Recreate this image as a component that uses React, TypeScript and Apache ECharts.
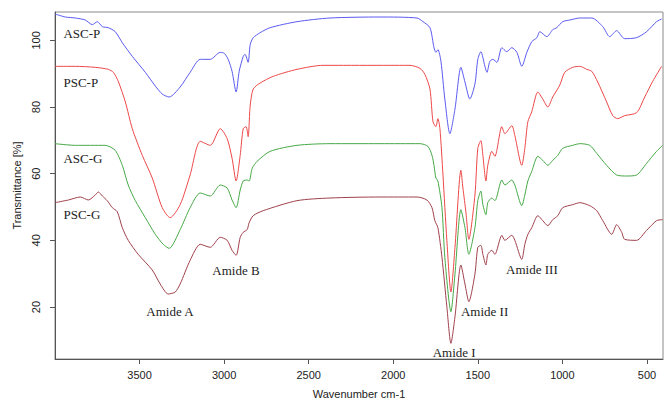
import React, { useEffect, useRef } from "react";
import * as echarts from "echarts";

// [wavenumber (cm-1), transmittance (%)]
const ascP: number[][] = [
  [4000, 107.9], [3939, 107.0], [3880, 106.7], [3821, 106.1], [3779, 104.7], [3750, 105.6],
  [3720, 104.1], [3685, 103.8], [3644, 102.6], [3602, 99.3], [3543, 95.2], [3466, 90.4],
  [3407, 86.3], [3366, 83.9], [3325, 83.0], [3260, 86.0], [3201, 90.4], [3141, 94.3],
  [3082, 94.3], [3023, 96.4], [2999, 96.1], [2976, 94.3], [2953, 90.7], [2929, 84.5],
  [2911, 90.7], [2887, 95.2], [2876, 95.8], [2858, 93.4], [2846, 98.7], [2828, 100.8],
  [2787, 102.3], [2728, 103.8], [2569, 105.6], [2374, 106.7], [2078, 107.0], [1860, 106.7],
  [1824, 105.6], [1783, 103.8], [1759, 97.8], [1748, 96.4], [1736, 97.2], [1718, 93.7],
  [1695, 82.4], [1665, 72.0], [1635, 79.4], [1600, 91.9], [1576, 87.5], [1547, 82.4],
  [1517, 86.9], [1500, 94.3], [1482, 96.6], [1458, 92.2], [1446, 90.4], [1429, 93.7],
  [1411, 94.3], [1387, 93.4], [1358, 97.8], [1329, 96.6], [1299, 97.8], [1269, 96.4],
  [1240, 92.2], [1210, 96.4], [1181, 99.6], [1151, 100.8], [1133, 102.6], [1092, 101.1],
  [1057, 103.2], [1033, 103.8], [998, 105.6], [956, 106.1], [897, 106.7], [826, 106.7],
  [761, 104.1], [720, 101.1], [679, 102.9], [632, 100.5], [561, 100.8], [502, 102.6],
  [443, 105.6], [413, 106.4],
];

const pscP: number[][] = [
  [4000, 92.2], [3880, 92.2], [3762, 91.9], [3685, 91.3], [3655, 90.4], [3626, 87.7],
  [3584, 81.5], [3543, 73.5], [3484, 65.5], [3425, 58.7], [3366, 49.8], [3319, 46.8],
  [3260, 50.7], [3201, 59.6], [3141, 69.7], [3082, 68.5], [3023, 73.5], [2982, 70.5],
  [2953, 64.6], [2929, 57.8], [2905, 65.5], [2887, 73.5], [2870, 74.1], [2858, 71.1],
  [2846, 80.3], [2828, 85.4], [2787, 87.2], [2710, 89.2], [2569, 91.3], [2415, 92.5],
  [2078, 92.5], [1901, 92.5], [1842, 91.6], [1813, 89.8], [1783, 85.4], [1765, 75.6],
  [1748, 74.1], [1736, 76.5], [1724, 73.5], [1706, 59.6], [1683, 40.0], [1659, 24.5],
  [1635, 37.9], [1600, 61.0], [1588, 55.7], [1570, 48.3], [1553, 40.3], [1517, 53.6],
  [1500, 67.6], [1482, 69.9], [1470, 65.5], [1452, 57.8], [1441, 62.5], [1417, 66.7],
  [1399, 65.2], [1358, 74.1], [1340, 72.0], [1299, 74.4], [1281, 71.4], [1240, 62.5],
  [1222, 67.6], [1204, 75.6], [1181, 78.6], [1145, 84.5], [1116, 82.4], [1086, 80.0],
  [1057, 83.0], [1015, 86.6], [986, 90.4], [939, 91.9], [897, 92.2], [856, 91.3],
  [826, 90.7], [791, 87.5], [738, 81.5], [702, 77.4], [673, 76.5], [632, 77.4],
  [561, 78.3], [513, 83.0], [466, 87.7], [413, 92.2],
];

const ascG: number[][] = [
  [4000, 69.0], [3880, 68.5], [3703, 68.5], [3644, 67.0], [3602, 62.5], [3567, 56.6],
  [3525, 51.9], [3466, 46.8], [3407, 41.8], [3360, 38.8], [3325, 37.6], [3260, 43.2],
  [3201, 49.8], [3141, 54.2], [3082, 53.3], [3023, 56.6], [2982, 55.7], [2953, 52.1],
  [2929, 49.8], [2905, 55.1], [2887, 57.8], [2864, 58.1], [2852, 57.8], [2834, 61.6],
  [2805, 63.7], [2728, 66.7], [2569, 68.5], [2374, 69.0], [2078, 69.0], [1842, 69.0],
  [1795, 68.2], [1771, 65.5], [1759, 62.5], [1748, 58.7], [1736, 57.8], [1712, 49.8],
  [1695, 34.9], [1659, 18.6], [1635, 29.9], [1600, 49.2], [1576, 43.8], [1553, 35.8],
  [1517, 43.8], [1500, 51.9], [1482, 54.8], [1470, 50.7], [1452, 47.7], [1441, 51.3],
  [1417, 52.7], [1399, 51.9], [1358, 58.1], [1340, 56.6], [1299, 58.1], [1281, 56.6],
  [1240, 50.4], [1222, 53.6], [1204, 57.8], [1181, 60.7], [1145, 65.2], [1116, 64.0],
  [1086, 62.5], [1057, 64.0], [1027, 65.5], [998, 67.6], [939, 68.5], [897, 69.0],
  [838, 68.5], [797, 66.1], [738, 62.5], [679, 59.6], [620, 59.3], [561, 59.6],
  [502, 63.1], [443, 66.7], [407, 68.5],
];

const pscG: number[][] = [
  [4000, 51.3], [3921, 52.1], [3850, 53.0], [3803, 52.1], [3762, 53.6], [3744, 54.5],
  [3720, 53.3], [3691, 51.9], [3661, 49.8], [3632, 48.6], [3602, 43.8], [3567, 40.0],
  [3508, 35.8], [3425, 31.1], [3378, 26.9], [3331, 23.9], [3289, 24.5], [3260, 26.9],
  [3201, 34.0], [3141, 38.8], [3082, 37.9], [3023, 40.9], [2982, 40.0], [2953, 37.0],
  [2929, 35.5], [2905, 40.9], [2887, 42.4], [2864, 43.2], [2852, 45.3], [2828, 47.4],
  [2769, 48.9], [2569, 51.9], [2374, 52.7], [2078, 53.0], [1860, 53.0], [1801, 52.1],
  [1771, 49.8], [1754, 45.9], [1736, 43.8], [1712, 34.9], [1683, 20.1], [1659, 9.1],
  [1635, 17.1], [1600, 32.6], [1576, 26.9], [1553, 21.6], [1517, 29.9], [1500, 37.9],
  [1482, 38.5], [1470, 35.8], [1452, 32.6], [1441, 35.8], [1417, 37.0], [1399, 35.8],
  [1358, 41.5], [1340, 40.0], [1299, 41.5], [1281, 40.0], [1240, 34.3], [1222, 38.8],
  [1204, 41.8], [1181, 43.8], [1145, 47.4], [1116, 45.9], [1086, 44.4], [1057, 46.2],
  [1027, 47.4], [998, 49.8], [939, 50.7], [897, 51.3], [838, 50.4], [797, 48.9],
  [761, 45.9], [708, 41.8], [679, 44.7], [649, 42.4], [632, 40.3], [561, 40.0],
  [502, 43.0], [443, 45.9], [407, 46.2],
];

const xTicks = [500, 1000, 1500, 2000, 2500, 3000, 3500];
const yTicks = [20, 40, 60, 80, 100];

const seriesNames = ["ASC-P", "PSC-P", "ASC-G", "PSC-G"];
const seriesColors = ["#5a5af0", "#ec4848", "#46a846", "#a0404c"];

// annotation labels: [text, wavenumber, transmittance, align]
const annotations: [string, number, number, string][] = [
  ["ASC-P", 3950, 102.0, "left"],
  ["PSC-P", 3950, 87.5, "left"],
  ["ASC-G", 3950, 64.6, "left"],
  ["PSC-G", 3950, 47.7, "left"],
  ["Amide A", 3320, 18.8, "center"],
  ["Amide B", 2930, 31.1, "center"],
  ["Amide I", 1640, 6.5, "center"],
  ["Amide II", 1460, 18.6, "center"],
  ["Amide III", 1180, 31.4, "center"],
];

const SERIF = "'Liberation Serif', 'Times New Roman', serif";
const SANS = "'Liberation Sans', Arial, sans-serif";

export default function App() {
  const ref = useRef<HTMLDivElement>(null);
  useEffect(() => {
    if (!ref.current) return;
    const chart = echarts.init(ref.current, null, { renderer: "svg" });
    const datasets = [ascP, pscP, ascG, pscG];
    chart.setOption({
      animation: false,
      backgroundColor: "#ffffff",
      grid: { left: 55, right: 1, top: 12, bottom: 41, show: true, borderColor: "#8a8a8a", borderWidth: 1 },
      xAxis: {
        type: "value",
        inverse: true,
        min: 405,
        max: 4000,
        axisLine: { show: true, onZero: false, lineStyle: { color: "#555", width: 1 } },
        axisTick: { show: true, length: 5, customValues: xTicks, lineStyle: { color: "#555" } },
        axisLabel: {
          customValues: xTicks,
          color: "#222",
          fontFamily: SANS,
          fontSize: 11,
          margin: 10,
          formatter: (v: number) => String(v),
        },
        splitLine: { show: false },
        name: "Wavenumber cm-1",
        nameLocation: "middle",
        nameGap: 29,
        nameTextStyle: { color: "#222", fontFamily: SANS, fontSize: 11 },
      },
      yAxis: {
        type: "value",
        min: 4.4,
        max: 108.5,
        axisLine: { show: true, onZero: false, lineStyle: { color: "#555", width: 1 } },
        axisTick: { show: true, length: 5, customValues: yTicks, lineStyle: { color: "#555" } },
        axisLabel: {
          customValues: yTicks,
          color: "#222",
          fontFamily: SANS,
          fontSize: 11,
          margin: 14,
          rotate: 90,
          formatter: (v: number) => String(v),
        },
        splitLine: { show: false },
        name: "Transmittance [%]",
        nameLocation: "middle",
        nameGap: 31,
        nameRotate: 90,
        nameTextStyle: { color: "#222", fontFamily: SANS, fontSize: 11 },
      },
      series: datasets.map((d, i) => ({
        name: seriesNames[i],
        type: "line",
        data: d,
        showSymbol: false,
        symbol: "none",
        smooth: 0.25,
        lineStyle: { color: seriesColors[i], width: 1 },
      })),
    });
    const graphics = annotations.map(([text, wn, t, align]) => {
      const [px, py] = chart.convertToPixel({ gridIndex: 0 }, [wn, t]);
      return {
        type: "text",
        x: px,
        y: py,
        style: { text, fill: "#222", font: `13px ${SERIF}`, textAlign: align, textVerticalAlign: "middle" },
      };
    });
    chart.setOption({ graphic: graphics });
    return () => chart.dispose();
  }, []);
  return <div ref={ref} style={{ position: "fixed", left: 0, top: 0, width: 664, height: 404 }} />;
}
